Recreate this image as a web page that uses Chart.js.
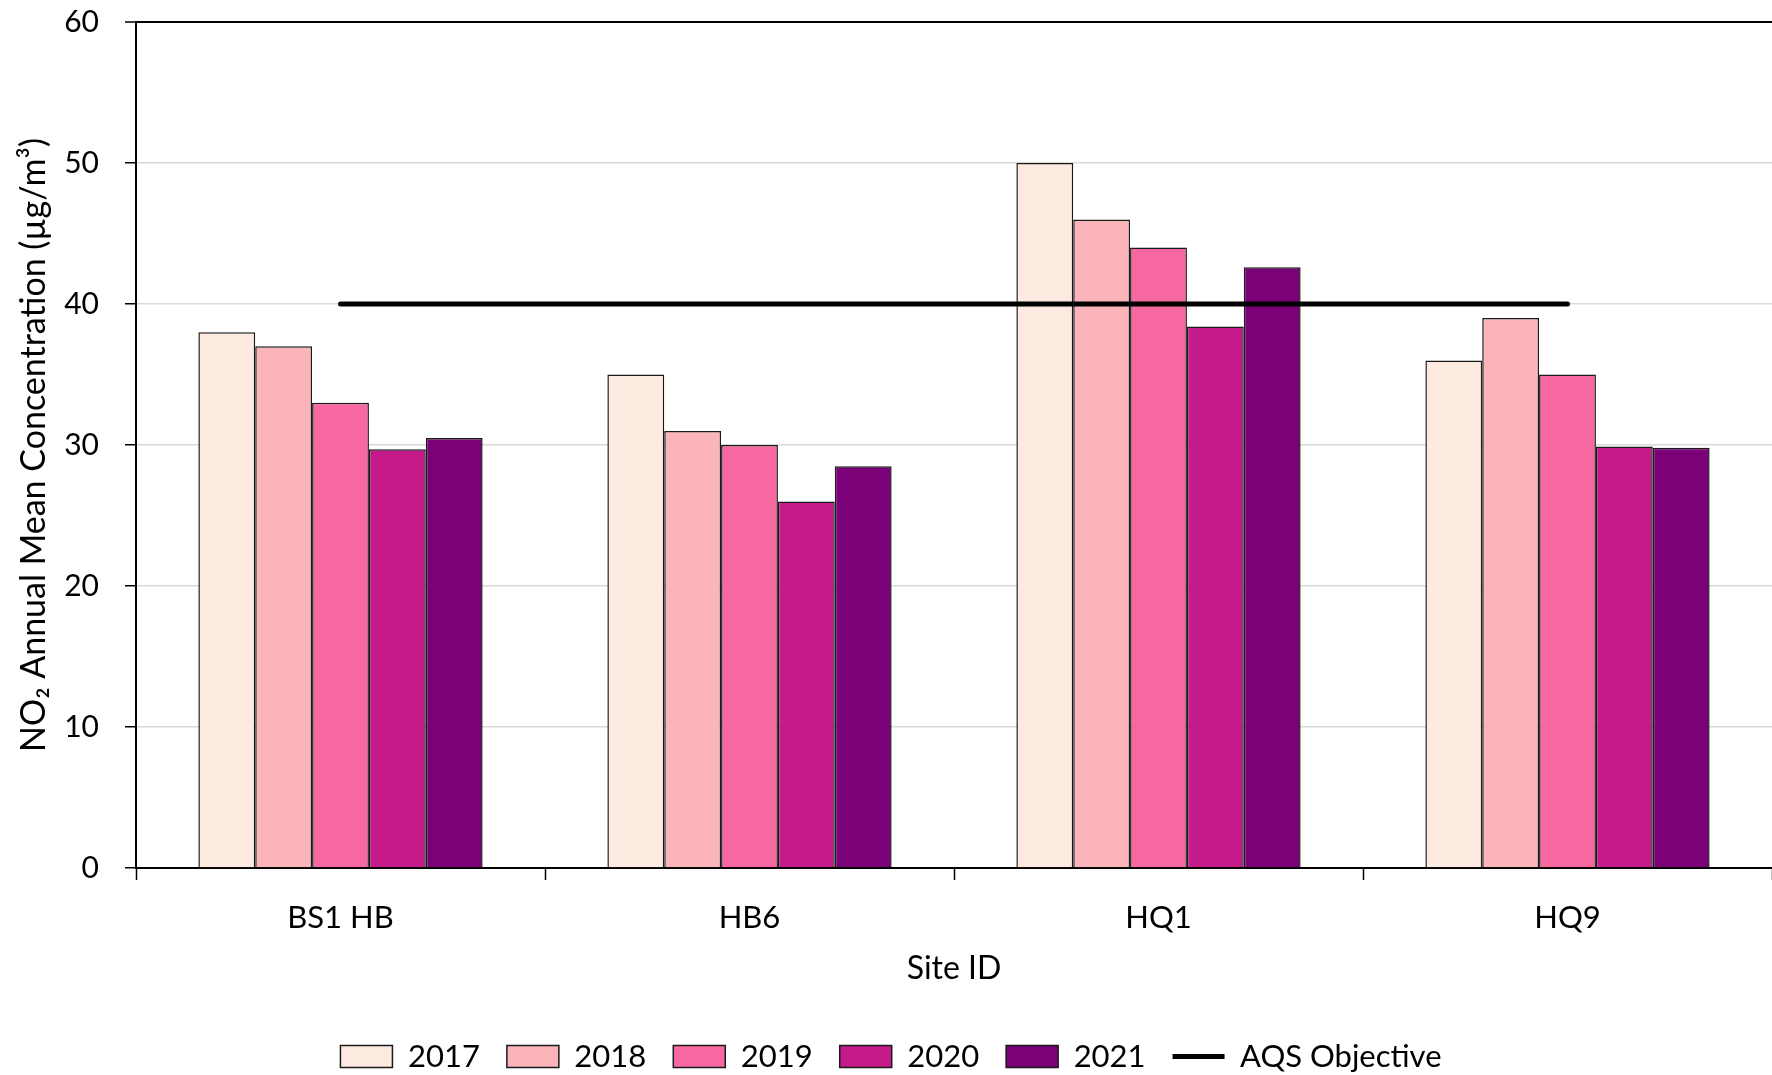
<!DOCTYPE html>
<html>
<head>
<meta charset="utf-8">
<script src="https://cdn.jsdelivr.net/npm/chart.js@4/dist/chart.umd.min.js"></script>
<style>
  html, body { margin: 0; padding: 0; background: #fff; }
  #wrap { width: 1772px; height: 1075px; position: relative; }
</style>
</head>
<body>
<div id="wrap"><canvas id="no2Chart"></canvas></div>
<script>
// NO2 annual means per site, one array per year
const sites = ["BS1 HB", "HB6", "HQ1", "HQ9"];
const years = ["2017", "2018", "2019", "2020", "2021"];
const mean2017 = [38, 35, 50, 36];
const mean2018 = [37, 31, 46, 39];
const mean2019 = [33, 30, 44, 35];
const mean2020 = [29.7, 26, 38.4, 29.9];
const mean2021 = [30.5, 28.5, 42.6, 29.8];
const aqsObjective = [40, 40, 40, 40];
const yTicks = [0, 10, 20, 30, 40, 50, 60];

const yearColors = ["#FDEBE1", "#FBB4B9", "#F768A1", "#C51B8A", "#7A0177"];
const yearValues = [mean2017, mean2018, mean2019, mean2020, mean2021];

const fontFamily = "Lato, 'Open Sans', sans-serif";
Chart.defaults.font.family = fontFamily;
Chart.defaults.color = "#000";

const datasets = years.map((yr, i) => ({
  type: "bar",
  label: yr,
  data: yearValues[i],
  backgroundColor: yearColors[i],
  borderColor: "#1a1a1a",
  borderWidth: 1.5,
  pointStyle: "rect",
  order: 1
}));

// objective line sits on top of the bars
datasets.push({
  type: "line",
  label: "AQS Objective",
  data: aqsObjective,
  borderColor: "#000",
  backgroundColor: "#000",
  borderWidth: 5,
  borderCapStyle: "round",
  pointRadius: 0,
  pointStyle: "line",
  order: 0
});

const ctx = document.getElementById("no2Chart").getContext("2d");

new Chart(ctx, {
  data: {
    labels: sites,
    datasets: datasets
  },
  options: {
    responsive: true,
    maintainAspectRatio: false,
    devicePixelRatio: 1,
    animation: false,
    layout: {
      padding: { left: 10, top: 22, right: 0, bottom: -7 }
    },
    datasets: {
      bar: { categoryPercentage: 0.695, barPercentage: 1.0 }
    },
    plugins: {
      tooltip: { enabled: false },
      legend: {
        position: "bottom",
        labels: {
          usePointStyle: true,
          pointStyleWidth: 52,
          boxHeight: 22,
          padding: 27,
          font: { size: 31 },
          color: "#000",
          sort: (a, b) => a.datasetIndex - b.datasetIndex
        }
      }
    },
    scales: {
      x: {
        offset: true,
        grid: {
          offset: true,
          drawOnChartArea: false,
          drawTicks: true,
          tickLength: 12,
          tickColor: "#000",
          tickWidth: 1.5
        },
        border: { color: "#000", width: 2 },
        ticks: { padding: 19, font: { size: 31 }, color: "#000", maxRotation: 0 },
        title: {
          display: true,
          text: "Site ID",
          font: { size: 32 },
          color: "#000",
          padding: { top: 4, bottom: 26 }
        },
        afterFit: (scale) => { scale.height = 146; }
      },
      y: {
        min: 0,
        max: 60,
        afterBuildTicks: (scale) => { scale.ticks = yTicks.map(v => ({ value: v })); },
        grid: {
          color: (c) => (c.tick && c.tick.value === 60 ? "#000" : "#d9d9d9"),
          lineWidth: (c) => (c.tick && c.tick.value === 60 ? 2 : 1.5),
          tickColor: "#000",
          tickLength: 11,
          tickWidth: 1.5
        },
        border: { color: "#000", width: 2 },
        ticks: { padding: 26, font: { size: 30 }, color: "#000" },
        title: {
          display: true,
          text: "NO\u2082 Annual Mean Concentration (\u00b5g/m\u00b3)",
          font: { size: 34 },
          color: "#000",
          padding: { top: 4, bottom: 4 }
        },
        afterFit: (scale) => {
          scale.width = 126;
          scale.paddingTop = 0;
          scale.paddingBottom = 0;
        }
      }
    }
  }
});
</script>
</body>
</html>
